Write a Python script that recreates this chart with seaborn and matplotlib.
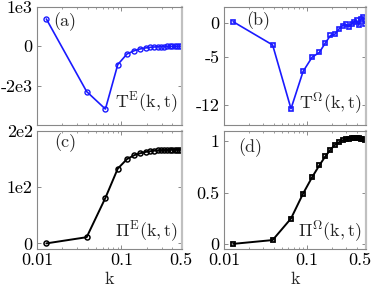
import numpy as np
import matplotlib
matplotlib.use("Agg")
import matplotlib.pyplot as plt
import matplotlib.transforms as mtransforms
import seaborn as sns

# wavenumbers (shared by all panels)
k = [0.0129, 0.0387, 0.0645, 0.0903, 0.1161, 0.1419, 0.1677, 0.1935, 0.2193, 0.2451,
     0.2709, 0.2967, 0.3225, 0.3483, 0.3741, 0.3999, 0.4257, 0.4515, 0.4773, 0.5031]

# (a) energy transfer
TE = [1390, -2300, -3190, -930, -390, -220, -130, -80, -50, -32,
      -22, -15, -10, -7, -5, -4, -3, -2, -1, 0]
# (b) enstrophy transfer
TW = [0.23, -3.2, -12.6, -7.1, -5.0, -4.3, -2.9, -1.8, -1.6, -0.85,
      -0.35, -0.15, -0.55, -0.05, 0.23, 0.44, -0.3, 0.6, 0.9, -0.05]
# (c) energy flux
PE = [0, 11, 81, 133, 150, 157, 160.5, 162.8, 164, 165,
      165.5, 165.8, 166, 166.2, 166.3, 166.4, 166.5, 166.5, 166.5, 166.5]
# (d) enstrophy flux
PW = [0, 0.037, 0.247, 0.49, 0.65, 0.765, 0.853, 0.918, 0.965, 0.99,
      1.01, 1.02, 1.025, 1.03, 1.035, 1.035, 1.03, 1.025, 1.02, 1.01]

sns.set_style("ticks")
plt.rcParams['font.family'] = ['cmr10', 'DejaVu Serif']
plt.rcParams['mathtext.fontset'] = 'cm'
plt.rcParams['axes.unicode_minus'] = False
plt.rcParams['font.size'] = 13

fig = plt.figure(figsize=(3.74, 2.97), dpi=100)
W, H = 374, 297

def box(l, r, t, b):
    return [l / W, 1 - b / H, (r - l) / W, (b - t) / H]

axa = fig.add_axes(box(37, 182, 7, 125))
axb = fig.add_axes(box(224, 366, 7, 125))
axc = fig.add_axes(box(37, 182, 131, 249))
axd = fig.add_axes(box(224, 366, 131, 249))

blue = '#1a1aff'
sns.lineplot(x=k, y=TE, ax=axa, color=blue, lw=1.2, marker='o', markersize=3.6,
             markerfacecolor='none', markeredgecolor=blue, markeredgewidth=1.0)
sns.lineplot(x=k, y=TW, ax=axb, color=blue, lw=1.2, marker='s', markersize=3.0,
             markerfacecolor='none', markeredgecolor=blue, markeredgewidth=1.2)
sns.lineplot(x=k, y=PE, ax=axc, color='black', lw=1.4, marker='o', markersize=3.6,
             markerfacecolor='none', markeredgecolor='black', markeredgewidth=1.1)
sns.lineplot(x=k, y=PW, ax=axd, color='black', lw=1.4, marker='s', markersize=3.0,
             markerfacecolor='none', markeredgecolor='black', markeredgewidth=1.3)

axa.set_ylim(-4000, 2000)
axa.set_yticks([-2000, 0, 2000])
axa.set_yticklabels(['-2e3', '0', '1e3'])
axb.set_ylim(-15, 2.4)
axb.set_yticks([-12, -5, 0])
axb.set_yticklabels(['-12', '-5', '0'])
axc.set_ylim(-10, 200)
axc.set_yticks([0, 100, 200])
axc.set_yticklabels(['0', '1e2', '2e2'])
axd.set_ylim(-0.05, 1.1)
axd.set_yticks([0, 0.5, 1])
axd.set_yticklabels(['0', '0.5', '1'])

panels = [(axa, '(a)', 0.11, 0.875, r'$\mathrm{T^E(k,t)}$', 0.19),
          (axb, '(b)', 0.16, 0.885, r'$\mathrm{T^\Omega(k,t)}$', 0.18),
          (axc, '(c)', 0.12, 0.90, r'$\mathrm{\Pi^E(k,t)}$', 0.15),
          (axd, '(d)', 0.10, 0.86, r'$\mathrm{\Pi^\Omega(k,t)}$', 0.15)]

for ax, tag, tx, ty, lab, ly in panels:
    ax.set_xscale('log')
    ax.set_xlim(0.01, 0.52)
    ax.set_xticks([0.01, 0.1, 0.5])
    ax.set_xticklabels(['0.01', '0.1', '0.5'] if ax in (axc, axd) else [])
    ax.tick_params(which='both', direction='in', top=True, right=True,
                   colors='#777777', labelcolor='black', labelsize=13, pad=3)
    ax.tick_params(which='major', length=3, width=0.6)
    ax.tick_params(which='minor', length=1.5, width=0.5)
    for s in ax.spines.values():
        s.set_color('#888888')
        s.set_linewidth(0.8)
    ax.spines['right'].set_color('#c0c0c0')
    ax.spines['right'].set_linewidth(1.6)
    ax.text(tx, ty, tag, transform=ax.transAxes, fontsize=13, va='center', ha='left')
    ax.text(0.97, ly, lab, transform=ax.transAxes, fontsize=13, va='center', ha='right')
    ax.set_ylabel('')

axc.set_xlabel('k', fontsize=13, labelpad=2)
axd.set_xlabel('k', fontsize=13, labelpad=2)

# pull the last tick label of the right panel in so it stays on the canvas
fig.canvas.draw()
last = axd.get_xticklabels()[-1]
last.set_transform(last.get_transform() +
                   mtransforms.ScaledTranslation(-0.05, 0, fig.dpi_scale_trans))

fig.savefig('out.png', dpi=100)
